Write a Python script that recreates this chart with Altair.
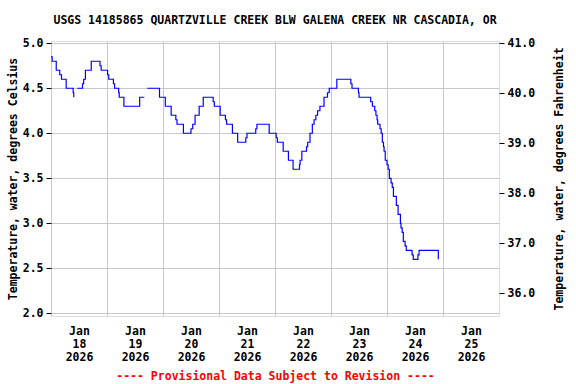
import altair as alt
import pandas as pd

# ---- data (hours after 2026-01-18 00:00, deg C) ----
seg1_hours = [0.0, 0.5, 2.25, 3.75, 4.5, 6.5, 9.5, 9.75]
seg1_vals = [4.85, 4.8, 4.7, 4.65, 4.6, 4.5, 4.45, 4.4]

seg2_hours = [11.25, 13.5, 14.0, 14.75, 17.25, 21.0, 21.5, 24.25, 24.75, 26.75,
              27.25, 29.0, 29.25, 31.25, 38.0, 40.0]
seg2_vals = [4.5, 4.55, 4.6, 4.7, 4.8, 4.75, 4.7, 4.65, 4.6, 4.55,
             4.5, 4.45, 4.4, 4.3, 4.4, 4.4]

seg3_hours = [41.25, 46.5, 49.0, 51.5, 53.5, 54.0, 56.75, 60.0, 60.75, 61.75,
              63.5, 65.25, 69.5, 70.0, 72.5, 74.75, 75.25, 77.75, 80.0, 83.5,
              84.0, 87.75, 88.25, 93.5, 96.5, 97.0, 99.5, 101.75, 103.75, 106.5,
              106.75, 107.5, 109.5, 110.0, 111.0, 112.0, 112.75, 113.5, 114.25, 115.25,
              117.0, 118.5, 119.25, 122.5, 128.5, 129.0, 131.75, 132.0, 137.0, 137.75,
              138.75, 139.25, 139.75, 140.0, 141.0, 141.5, 142.0, 142.5, 142.75, 143.25,
              144.0, 144.5, 145.0, 145.75, 146.25, 146.75, 148.0, 148.75, 149.75, 150.0,
              150.5, 151.0, 151.75, 152.25, 154.75, 155.25, 157.25, 157.75, 166.0]
seg3_vals = [4.5, 4.4, 4.3, 4.2, 4.15, 4.1, 4.0, 4.05, 4.1, 4.2,
             4.3, 4.4, 4.35, 4.3, 4.2, 4.15, 4.1, 4.0, 3.9, 3.95,
             4.0, 4.05, 4.1, 4.0, 3.95, 3.9, 3.8, 3.7, 3.6, 3.65,
             3.7, 3.8, 3.85, 3.9, 4.0, 4.1, 4.15, 4.2, 4.25, 4.3,
             4.4, 4.45, 4.5, 4.6, 4.55, 4.5, 4.45, 4.4, 4.35, 4.3,
             4.25, 4.2, 4.15, 4.1, 4.05, 4.0, 3.9, 3.85, 3.8, 3.7,
             3.65, 3.6, 3.5, 3.45, 3.4, 3.3, 3.2, 3.1, 3.0, 2.95,
             2.9, 2.8, 2.75, 2.7, 2.65, 2.6, 2.65, 2.7, 2.6]

title_text = "USGS 14185865 QUARTZVILLE CREEK BLW GALENA CREEK NR CASCADIA, OR"
footer_text = "---- Provisional Data Subject to Revision ----"
c_ticks = [2.0, 2.5, 3.0, 3.5, 4.0, 4.5, 5.0]
f_ticks = [36.0, 37.0, 38.0, 39.0, 40.0, 41.0]
day_ticks = [18, 19, 20, 21, 22, 23, 24, 25]

# ---- build table ----
start = pd.Timestamp("2026-01-18 00:00")
rows = []
for seg, (hs, vs) in enumerate([(seg1_hours, seg1_vals), (seg2_hours, seg2_vals),
                                (seg3_hours, seg3_vals)]):
    for h, v in zip(hs, vs):
        rows.append({"time": (start + pd.Timedelta(hours=h)).strftime("%Y-%m-%dT%H:%M:%S"),
                     "c": v, "seg": seg})
df = pd.DataFrame(rows)

FONT = "DejaVu Sans Mono"
FS = 11.5
c_dom = [1.97, 5.025]
f_dom = [c_dom[0] * 1.8 + 32, c_dom[1] * 1.8 + 32]

x_enc = alt.X(
    "time:T",
    scale=alt.Scale(domain=[alt.DateTime(year=2026, month=1, date=18),
                            alt.DateTime(year=2026, month=1, date=26)]),
    axis=alt.Axis(
        values=[alt.DateTime(year=2026, month=1, date=d) for d in day_ticks],
        labelExpr="[timeFormat(datum.value, '%b'), timeFormat(datum.value, '%d'), timeFormat(datum.value, '%Y')]",
        labelOffset=28, labelPadding=9, labelLineHeight=13, labelBaseline="top",
        labelOverlap=False, labelBound=False, labelFlush=False,
        ticks=False, tickSize=0, domain=False,
        grid=True, gridColor="#c8c8c8", gridWidth=1,
        labelFont=FONT, labelFontSize=FS, labelFontWeight="bold", labelColor="black",
        title=footer_text, titleColor="#ff0000", titleFont=FONT, titleFontSize=FS,
        titleFontWeight="bold", titlePadding=8,
    ),
)

left = alt.Chart(df).mark_line(interpolate="step-after", color="#0000ff", strokeWidth=1.2).encode(
    y=alt.Y("c:Q", scale=alt.Scale(domain=c_dom, nice=False, zero=False),
            axis=alt.Axis(values=c_ticks, format=".1f", grid=True, gridColor="#c8c8c8",
                          tickSize=5, tickColor="black", domain=False, labelPadding=3,
                          labelFont=FONT, labelFontSize=FS, labelFontWeight="bold",
                          labelColor="black",
                          title="Temperature, water, degrees Celsius", titleFont=FONT,
                          titleFontSize=FS, titleFontWeight="bold", titlePadding=4,
                          titleColor="black")),
    detail="seg:N",
)

right = alt.Chart(df).transform_calculate(f="datum.c * 1.8 + 32").mark_line(opacity=0).encode(
    y=alt.Y("f:Q", scale=alt.Scale(domain=f_dom, nice=False, zero=False),
            axis=alt.Axis(values=f_ticks, format=".1f", grid=False, orient="right",
                          tickSize=5, tickColor="black", domain=False, labelPadding=3,
                          labelFont=FONT, labelFontSize=FS, labelFontWeight="bold",
                          labelColor="black",
                          title="Temperature, water, degrees Fahrenheit", titleFont=FONT,
                          titleFontSize=FS, titleFontWeight="bold", titlePadding=30,
                          titleAngle=270, titleColor="black")),
    detail="seg:N",
)

chart = alt.layer(left, right).encode(x=x_enc).resolve_scale(y="independent").properties(
    width=448, height=275,
    padding={"left": 51, "top": 41, "right": 77, "bottom": 68},
    autosize=alt.AutoSizeParams(type="none"),
    title=alt.TitleParams(text=title_text, font=FONT, fontSize=FS, fontWeight="bold",
                          anchor="middle", offset=11, color="black"),
).configure_view(stroke="black", strokeWidth=1.2).configure(background="white")

chart.save("out.html", embed_options={"renderer": "svg", "actions": False})
